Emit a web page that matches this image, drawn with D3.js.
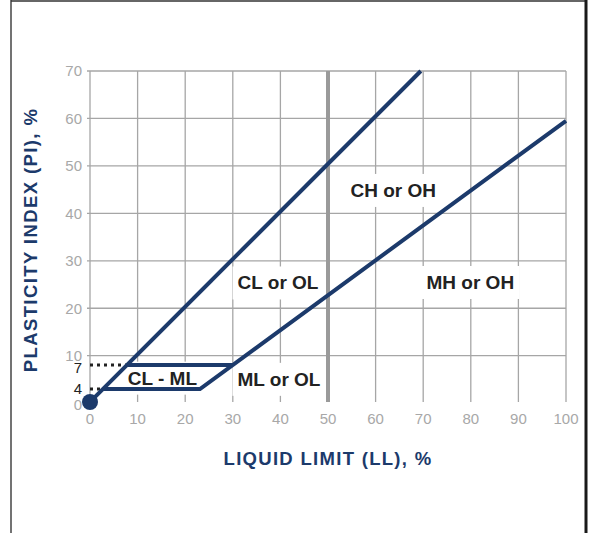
<!DOCTYPE html>
<html>
<head>
<meta charset="utf-8">
<script src="https://cdn.jsdelivr.net/npm/d3@7"></script>
<style>
  html, body { margin: 0; padding: 0; background: #fff; }
  svg { display: block; }
  text { font-family: "Liberation Sans", Arial, Helvetica, sans-serif; }
</style>
</head>
<body>
<svg id="chart" width="590" height="533"></svg>
<script>
// Plasticity chart: liquid limit (LL) vs plasticity index (PI)
const llTicks = [0, 10, 20, 30, 40, 50, 60, 70, 80, 90, 100];
const piGridTicks = [10, 20, 30, 40, 50, 60, 70];
const piTickLabels = [0, 10, 20, 30, 40, 50, 60, 70];
const piMarkedTicks = [4, 7];

// Boundary lines, as [LL, PI] vertices
const upperLine = [[0.6, 0.9], [69.5, 70]];
const lowerLine = [[2.7, 4], [23.1, 4], [100, 59.5]];
const clmlTopLine = [[7.8, 7], [30, 7]];
const dotted4 = [[0, 4], [2.7, 4]];
const dotted7 = [[0, 7], [7.8, 7]];
const originPoint = [0, 0];
const llDivide = 50;

// Soil group zones
const zoneNames = ["CH or OH", "CL or OL", "MH or OH", "ML or OL", "CL - ML"];
const zoneLL = [63.7, 39.5, 79.9, 39.7, 15.2];
const zonePI = [44.9, 25.4, 25.5, 5.25, 5.4];

const navy = "#1c3a6b";
const gridColor = "#a6a6a6";
const tickGray = "#a8a8a8";

const svg = d3.select("#chart");

svg.append("rect").attr("width", 590).attr("height", 533).attr("fill", "#fff");

const x = d3.scaleLinear().domain([0, 100]).range([90, 566]);
// low PI band (0–10) is drawn stretched so the 4 and 7 limits stay readable
const y = d3.scaleLinear().domain([0, 4, 7, 10, 70]).range([402, 389, 365, 355.7, 71]);

const line = d3.line().x(d => x(d[0])).y(d => y(d[1]));

// grid
const grid = svg.append("g");
grid.selectAll("line.v").data(llTicks).join("line")
  .attr("x1", d => x(d)).attr("x2", d => x(d))
  .attr("y1", y(70)).attr("y2", y(0))
  .attr("stroke", gridColor).attr("stroke-width", 1.3);
grid.selectAll("line.h").data(piGridTicks).join("line")
  .attr("x1", x(0) - 3).attr("x2", x(100))
  .attr("y1", d => y(d)).attr("y2", d => y(d))
  .attr("stroke", gridColor).attr("stroke-width", 1.3);

// LL = 50 divide
svg.append("line")
  .attr("x1", x(llDivide)).attr("x2", x(llDivide))
  .attr("y1", y(70)).attr("y2", y(0))
  .attr("stroke", "#9a9a9a").attr("stroke-width", 4);

// zone labels with white backing
const zones = svg.append("g");
const zoneG = zones.selectAll("g").data(zoneNames).join("g");
zoneG.append("text")
  .attr("x", (d, i) => x(zoneLL[i]))
  .attr("y", (d, i) => y(zonePI[i]))
  .attr("dy", "0.36em")
  .attr("text-anchor", "middle")
  .attr("font-size", 19)
  .attr("font-weight", "bold")
  .attr("fill", "#222")
  .text(d => d);
zoneG.each(function() {
  const g = d3.select(this);
  const bb = g.select("text").node().getBBox();
  g.insert("rect", "text")
    .attr("x", bb.x - 5).attr("y", bb.y - 6)
    .attr("width", bb.width + 10).attr("height", bb.height + 12)
    .attr("fill", "#fff");
});

// dotted guides to the 4 and 7 limits
[dotted4, dotted7].forEach(pts => {
  svg.append("path").attr("d", line(pts))
    .attr("fill", "none").attr("stroke", "#222")
    .attr("stroke-width", 3).attr("stroke-dasharray", "3 4");
});

// boundary lines
[upperLine, lowerLine, clmlTopLine].forEach(pts => {
  svg.append("path").attr("d", line(pts))
    .attr("fill", "none").attr("stroke", navy)
    .attr("stroke-width", 4).attr("stroke-linejoin", "miter");
});

svg.append("circle")
  .attr("cx", x(originPoint[0])).attr("cy", y(originPoint[1]))
  .attr("r", 8).attr("fill", navy);

// tick labels
svg.append("g").selectAll("text").data(llTicks).join("text")
  .attr("x", d => x(d)).attr("y", 424)
  .attr("text-anchor", "middle")
  .attr("font-size", 15).attr("fill", tickGray)
  .text(d => d);

// the stacked low labels (0, 4, 7, 10) are nudged apart slightly
const labelNudge = d => (d === 0 || d === 7) ? 3 : 0;

svg.append("g").selectAll("text").data(piTickLabels).join("text")
  .attr("x", 82).attr("y", d => y(d) + labelNudge(d)).attr("dy", "0.36em")
  .attr("text-anchor", "end")
  .attr("font-size", 15).attr("fill", tickGray)
  .text(d => d);

svg.append("g").selectAll("text").data(piMarkedTicks).join("text")
  .attr("x", 82).attr("y", d => y(d) + labelNudge(d)).attr("dy", "0.36em")
  .attr("text-anchor", "end")
  .attr("font-size", 15).attr("fill", "#222")
  .text(d => d);

// axis titles
svg.append("text")
  .attr("x", 328).attr("y", 465)
  .attr("text-anchor", "middle")
  .attr("font-size", 18.5).attr("font-weight", "bold")
  .attr("letter-spacing", 1.3)
  .attr("fill", navy)
  .text("LIQUID LIMIT (LL), %");

svg.append("text")
  .attr("transform", "translate(37,240) rotate(-90)")
  .attr("text-anchor", "middle")
  .attr("font-size", 18.5).attr("font-weight", "bold")
  .attr("letter-spacing", 1.4)
  .attr("fill", navy)
  .text("PLASTICITY INDEX (PI), %");

// frame
svg.append("line").attr("x1", 11).attr("x2", 11).attr("y1", 0).attr("y2", 533)
  .attr("stroke", "#444").attr("stroke-width", 1.5);
svg.append("line").attr("x1", 11).attr("x2", 587).attr("y1", 1).attr("y2", 1)
  .attr("stroke", "#333").attr("stroke-width", 1.5);
svg.append("line").attr("x1", 586).attr("x2", 586).attr("y1", 0).attr("y2", 533)
  .attr("stroke", "#1a1a1a").attr("stroke-width", 3);
</script>
</body>
</html>
